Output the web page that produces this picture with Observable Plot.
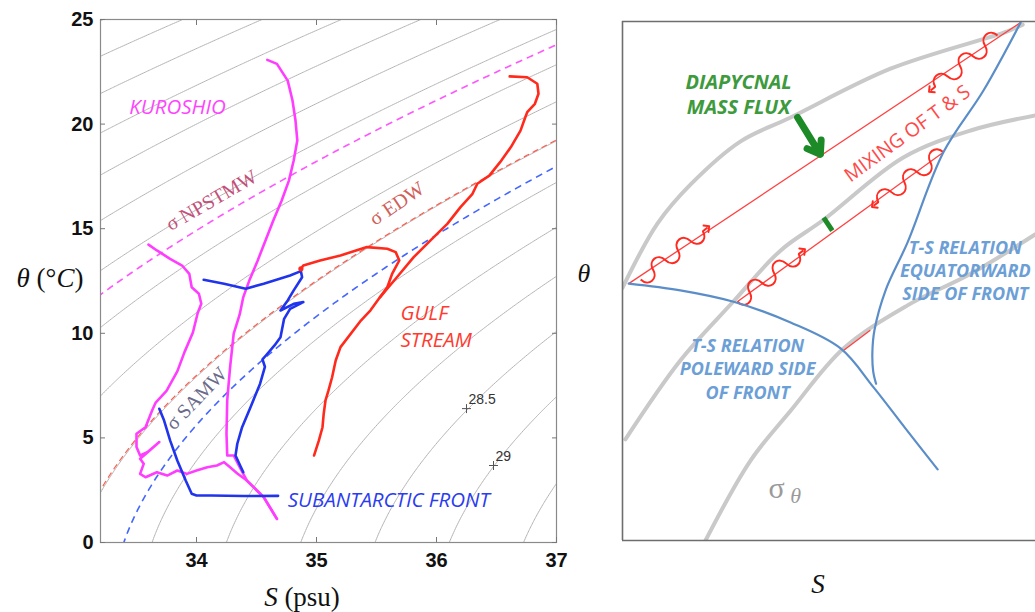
<!DOCTYPE html>
<html>
<head>
<meta charset="utf-8">
<script src="https://cdn.jsdelivr.net/npm/d3@7"></script>
<script src="https://cdn.jsdelivr.net/npm/@observablehq/plot@0.6"></script>
<style>
  body { margin: 0; background: #fff; }
  #fig { position: relative; width: 1035px; height: 612px; overflow: hidden; background: #fff; }
  #fig > svg { position: absolute; top: 0; }
  .lab { position: absolute; font-family: "Liberation Serif", "DejaVu Serif", serif; color: #111; white-space: nowrap; transform: translate(-50%, -50%); line-height: 1; }
</style>
</head>
<body>
<div id="fig"></div>
<script>
// ---------- Left panel: observed θ–S profiles ----------
const sTicks = [34, 35, 36, 37];
const thetaTicks = [0, 5, 10, 15, 20, 25];
const isoLevels = [21.5, 22, 22.5, 23, 23.5, 24, 24.5, 25, 25.5, 26, 26.5, 27, 27.5, 28, 28.5, 29, 29.5];

// mode-water isopycnals (σθ, kg m⁻³ − 1000)
const modeWaters = [
  {name: "σ NPSTMW", sigma: 25.22, color: "#ff55ff", width: 1.6, dash: "7,5", S: 34.125, t: 16.35, angle: -30, textColor: "#c2507a"},
  {name: "σ EDW", sigma: 26.49, color: "#ff5a4a", width: 1.2, dash: "6,4", S: 35.67, t: 16.2, angle: -34, textColor: "#d0605a"},
  {name: "σ SAMW", sigma: 26.81, color: "#4466ff", width: 1.6, dash: "7,5", S: 34.0, t: 6.88, angle: -46, textColor: "#6a6a8a"}
];

// profiles: [S (psu), θ (°C)]
const kuroshioUpper = [[34.59,23.07],[34.67,22.88],[34.76,22.08],[34.80,21.13],[34.825,20.17],[34.84,19.22],[34.81,18.26],[34.77,17.3],[34.71,16.35],[34.64,15.39],[34.575,14.44],[34.51,13.48],[34.44,12.52],[34.39,11.73],[34.36,10.9],[34.31,9.98],[34.28,8.38],[34.256,6.79],[34.25,5.2],[34.256,4.16],[34.31,4.16],[34.36,3.6],[34.42,2.96],[34.56,2.17],[34.67,1.13]];
const kuroshioLower = [[33.60,14.24],[33.67,13.96],[33.78,13.56],[33.88,13.24],[33.94,12.84],[33.96,12.2],[34.02,11.89],[34.04,11.41],[34.01,10.97],[33.97,10.04],[33.90,9.1],[33.84,8.18],[33.75,7.25],[33.66,6.69],[33.63,6.31],[33.575,5.51],[33.5,5.2],[33.5,4.56],[33.53,4.16],[33.59,4.32],[33.69,4.8],[33.6,4.35],[33.53,4.0],[33.56,3.76],[33.53,3.28],[33.575,3.12],[33.67,3.36],[33.756,3.2],[33.84,3.44],[33.92,3.28],[34.0,3.44],[34.09,3.6],[34.17,3.68],[34.23,3.84],[34.28,3.6],[34.34,3.3],[34.42,2.96],[34.56,2.17],[34.67,1.13]];
const safUpper = [[34.06,12.56],[34.23,12.37],[34.41,12.13],[34.56,12.37],[34.78,12.76],[34.87,12.97],[34.88,12.68],[34.81,12.05],[34.76,11.57],[34.70,11.09],[34.81,11.41],[34.89,11.49],[34.78,11.17],[34.73,10.69],[34.70,9.81],[34.65,9.42],[34.58,8.95],[34.55,8.75],[34.57,8.4],[34.53,7.59],[34.45,6.47],[34.38,5.51],[34.34,4.72],[34.325,4.16],[34.39,3.36]];
const safLower = [[33.69,6.39],[33.73,5.83],[33.78,4.88],[33.84,3.92],[33.91,2.96],[33.96,2.33],[34.0,2.25],[34.12,2.25],[34.39,2.22],[34.68,2.23]];
const gulfMain = [[36.61,22.28],[36.756,22.24],[36.84,21.93],[36.85,21.45],[36.82,20.97],[36.756,20.57],[36.74,20.33],[36.70,19.69],[36.62,18.9],[36.53,18.18],[36.44,17.54],[36.34,17.15],[36.30,16.67],[36.2,16.03],[36.09,15.23],[35.95,14.44],[35.81,13.64],[35.67,12.68],[35.53,11.73],[35.45,11.1],[35.37,10.61],[35.2,9.34],[35.16,8.7],[35.13,7.9],[35.10,7.27],[35.075,6.79],[35.06,6.15],[35.05,5.51],[35.02,4.88],[34.98,4.16]];
const gulfLoop = [[34.87,13.08],[34.89,13.24],[35.03,13.48],[35.2,13.72],[35.42,14.12],[35.59,14.04],[35.66,13.88],[35.69,13.48],[35.66,13.16],[35.63,12.84],[35.59,12.2],[35.53,11.73]];

const profiles = [
  {name: "Kuroshio", color: "#ff3dff", pts: kuroshioUpper},
  {name: "Kuroshio", color: "#ff3dff", pts: kuroshioLower},
  {name: "Subantarctic Front", color: "#1f34ec", pts: safUpper},
  {name: "Subantarctic Front", color: "#1f34ec", pts: safLower},
  {name: "Gulf Stream", color: "#ff2a1c", pts: gulfMain},
  {name: "Gulf Stream", color: "#ff2a1c", pts: gulfLoop}
];

const regionLabels = [
  {S: 33.44, t: 20.89, text: "KUROSHIO", color: "#ff44ff"},
  {S: 35.70, t: 10.42, text: "GULF\nSTREAM", color: "#ff3b30"},
  {S: 34.76, t: 2.10, text: "SUBANTARCTIC FRONT", color: "#2b3cf0"}
];
const contourLabels = [
  {S: 36.25, t: 6.40, text: "28.5"},
  {S: 36.475, t: 3.68, text: "29"}
];

// UNESCO EOS-80 potential density anomaly at the surface
function sigmaTheta(S, T) {
  const rw = 999.842594 + T * (6.793952e-2 + T * (-9.095290e-3 + T * (1.001685e-4 + T * (-1.120083e-6 + T * 6.536332e-9))));
  const A = 0.824493 + T * (-4.0899e-3 + T * (7.6438e-5 + T * (-8.2467e-7 + T * 5.3875e-9)));
  const B = -5.72466e-3 + T * (1.0227e-4 - T * 1.6546e-6);
  return rw + A * S + B * S * Math.sqrt(S) + 4.8314e-4 * S * S - 1000;
}

const profileRows = profiles.flatMap((p, i) => p.pts.map(([S, t]) => ({id: i, S, t, color: p.color})));
const sans = "Liberation Sans, Arial, sans-serif";
const calib = "'Open Sans', 'Liberation Sans', sans-serif";
const grid = {x1: 33.0, x2: 37.2, y1: -1, y2: 26};
const noText = () => "";

const left = Plot.plot({
  width: 570,
  height: 612,
  marginLeft: 100,
  marginRight: 14,
  marginTop: 19,
  marginBottom: 70,
  x: {domain: [33.2, 37]},
  y: {domain: [0, 25]},
  style: {fontFamily: sans, background: "transparent", overflow: "visible"},
  marks: [
    Plot.contour({...grid, value: sigmaTheta, thresholds: isoLevels, stroke: "#b3b3b3", strokeWidth: 1, fill: "none", clip: true}),
    ...modeWaters.map(m => Plot.contour({...grid, value: sigmaTheta, thresholds: [m.sigma], stroke: m.color, strokeWidth: m.width, strokeDasharray: m.dash, fill: "none", clip: true})),
    Plot.text(modeWaters, {x: "S", y: "t", text: "name", rotate: "angle", fill: "textColor", fontFamily: "Liberation Serif, serif", fontSize: 20}),
    Plot.line(profileRows, {x: "S", y: "t", z: "id", stroke: "color", strokeWidth: 2.6, curve: "linear", strokeLinejoin: "round", strokeLinecap: "round"}),
    Plot.dot([gulfLoop[0]], {x: d => d[0], y: d => d[1], r: 2.6, fill: "#ff2a1c"}),
    Plot.text(regionLabels, {x: "S", y: "t", text: "text", fill: "color", textAnchor: "start", fontFamily: calib, fontStyle: "italic", fontSize: 20.5, lineHeight: 1.35}),
    Plot.dot(contourLabels, {x: "S", y: "t", symbol: "plus", r: 3, stroke: "#555", strokeWidth: 1}),
    Plot.text(contourLabels, {x: "S", y: "t", text: "text", textAnchor: "start", dx: 2, dy: -9, fill: "#333", fontSize: 14, fontFamily: sans}),
    Plot.frame({stroke: "#8a8a8a", strokeWidth: 1.2}),
    Plot.axisX(sTicks, {anchor: "bottom", tickSize: -5, tickFormat: noText, label: null, stroke: "#777"}),
    Plot.axisX(sTicks, {anchor: "top", tickSize: -5, tickFormat: noText, label: null, stroke: "#777"}),
    Plot.axisY(thetaTicks, {anchor: "left", tickSize: -5, tickFormat: noText, label: null, stroke: "#777"}),
    Plot.axisY(thetaTicks, {anchor: "right", tickSize: -5, tickFormat: noText, label: null, stroke: "#777"}),
    Plot.axisX(sTicks, {anchor: "bottom", tickSize: 0, tickPadding: 10, label: null, tickFormat: d => String(d), fontSize: 20, fontWeight: "bold", fill: "#111"}),
    Plot.axisY(thetaTicks, {anchor: "left", tickSize: 0, tickPadding: 7, label: null, tickFormat: d => String(d), fontSize: 20, fontWeight: "bold", fill: "#111"})
  ]
});
left.style.left = "0px";

// ---------- Right panel: schematic of mixing across a front ----------
// schematic coordinates: salinity and temperature in arbitrary units (0–100)
const isopycnalSketch = [
  [[0,48.7],[8.5,61.1],[16.5,68.6],[28.6,76.9],[40.7,81.5],[64.9,90.9],[93.2,98.1],[96.9,99.4]],
  [[0.7,19.5],[14,34.7],[26.9,46.1],[38.3,55.9],[48.7,61.8],[68,73.8],[84.3,79],[100,81.9]],
  [[20.1,0],[31,15.4],[40.7,25],[53.5,37],[69,45.3],[84.3,51.4],[100,59]]
];
const polewardTS = [[1.5,49.5],[14,48.2],[26.9,46],[40.7,42],[52.8,37],[60.8,29.5],[68.5,21.6],[76.3,13.7]];
const equatorwardTS = [[96.4,99.8],[87.4,86.7],[77.7,74.8],[69,57.4],[63.7,48.2],[61,40.5],[60.5,36.2],[60.7,32.6],[61.4,30.2]];
const mixingLines = [
  {u1: 1.5, v1: 49.5, u2: 96.4, v2: 99.8},
  {u1: 27.8, v1: 46, u2: 77.7, v2: 74.8},
  {u1: 53.5, v1: 36.6, u2: 60, v2: 40.5}
];
const stirring = [
  {u1: 4.4, v1: 50.3, u2: 20.6, v2: 60.3},
  {u1: 90.8, v1: 97.3, u2: 74.6, v2: 86.7},
  {u1: 27.8, v1: 46, u2: 43.8, v2: 55.9},
  {u1: 77.7, v1: 74.8, u2: 60.8, v2: 64.5}
];
const massFlux = [{u1: 42.4, v1: 81.5, u2: 47.9, v2: 74.4}];
const massFluxSmall = [{u1: 48.7, v1: 62.2, u2: 50.8, v2: 59.7}];
const fluxLabel = [{u: 28.1, v: 86.2, text: "DIAPYCNAL\nMASS FLUX"}];
const mixingLabel = [{u: 69, v: 78.4, text: "MIXING OF T & S"}];
const relationLabels = [
  {u: 83, v: 52.2, text: "T-S RELATION\nEQUATORWARD\nSIDE OF FRONT"},
  {u: 30.3, v: 33.3, text: "T-S RELATION\nPOLEWARD SIDE\nOF FRONT"}
];

// a wavy path between the two ends of a link, finishing straight so the arrowhead follows the line
function curveWavy(context) {
  let pts = [];
  return {
    areaStart() {}, areaEnd() {},
    lineStart() { pts = []; },
    point(x, y) { pts.push([+x, +y]); },
    lineEnd() {
      const [x0, y0] = pts[0], [x1, y1] = pts[pts.length - 1];
      const dx = x1 - x0, dy = y1 - y0, L = Math.hypot(dx, dy);
      const ux = dx / L, uy = dy / L, nx = -uy, ny = ux;
      const halves = 5, amp = 8, tail = 6;
      const seg = (L - tail) / halves;
      const at = (s, o) => [x0 + ux * s + nx * o, y0 + uy * s + ny * o];
      context.moveTo(x0, y0);
      for (let i = 0; i < halves; i++) {
        const s = i * seg, h = (i % 2 ? -1 : 1) * amp * 4 / 3;
        const c1 = at(s + seg * 0.1, h), c2 = at(s + seg * 0.9, h), e = at(s + seg, 0);
        context.bezierCurveTo(c1[0], c1[1], c2[0], c2[1], e[0], e[1]);
      }
      context.lineTo(x1, y1);
    }
  };
}

const right = Plot.plot({
  width: 445,
  height: 612,
  marginLeft: 32,
  marginRight: 0,
  marginTop: 21,
  marginBottom: 72,
  x: {domain: [0, 100], axis: null},
  y: {domain: [0, 100], axis: null},
  style: {fontFamily: calib, background: "transparent", overflow: "visible"},
  marks: [
    ...isopycnalSketch.map(c => Plot.line(c, {curve: "catmull-rom", stroke: "#c9c9c9", strokeWidth: 4, clip: true})),
    Plot.link(mixingLines, {x1: "u1", y1: "v1", x2: "u2", y2: "v2", stroke: "#ff4040", strokeWidth: 1.3}),
    Plot.link(stirring, {x1: "u1", y1: "v1", x2: "u2", y2: "v2", curve: curveWavy, stroke: "#ff2a20", strokeWidth: 2, markerEnd: "arrow"}),
    Plot.line(polewardTS, {curve: "catmull-rom", stroke: "#5b8ec8", strokeWidth: 2.2}),
    Plot.line(equatorwardTS, {curve: "catmull-rom", stroke: "#5b8ec8", strokeWidth: 2.2}),
    Plot.arrow(massFlux, {x1: "u1", y1: "v1", x2: "u2", y2: "v2", stroke: "#1c8a26", strokeWidth: 7, headLength: 5, headAngle: 70}),
    Plot.link(massFluxSmall, {x1: "u1", y1: "v1", x2: "u2", y2: "v2", stroke: "#1c8a26", strokeWidth: 5}),
    Plot.text(fluxLabel, {x: "u", y: "v", text: "text", fill: "#3d9a3d", fontStyle: "italic", fontWeight: "bold", fontSize: 20, lineHeight: 1.25}),
    Plot.text(mixingLabel, {x: "u", y: "v", text: "text", fill: "#ff4a4a", rotate: -36, fontSize: 19.5}),
    Plot.text(relationLabels, {x: "u", y: "v", text: "text", fill: "#6c9fd6", fontStyle: "italic", fontWeight: "bold", fontSize: 18, lineHeight: 1.3}),
    Plot.text(["σ"], {x: 37.3, y: 10, fill: "#9a9a9a", fontSize: 30, fontFamily: "Liberation Serif, serif"}),
    Plot.text(["θ"], {x: 41.9, y: 8.6, fill: "#9a9a9a", fontSize: 22, fontStyle: "italic", fontFamily: "Liberation Serif, serif"}),
    Plot.ruleX([0], {stroke: "#6e6e6e", strokeWidth: 1.6}),
    Plot.ruleY([0, 100], {stroke: "#6e6e6e", strokeWidth: 1.6})
  ]
});
right.style.left = "590px";

const fig = document.getElementById("fig");
fig.append(left, right);

// axis titles set in a serif face
const titles = [
  {x: 50, y: 278, html: "<i>θ</i> (°<i>C</i>)", size: 27},
  {x: 302, y: 597, html: "<i>S</i> (psu)", size: 27},
  {x: 584, y: 274, html: "<i>θ</i>", size: 26},
  {x: 818, y: 584, html: "<i>S</i>", size: 27}
];
for (const t of titles) {
  const d = document.createElement("div");
  d.className = "lab";
  d.style.left = t.x + "px";
  d.style.top = t.y + "px";
  d.style.fontSize = t.size + "px";
  d.innerHTML = t.html;
  fig.append(d);
}
</script>
</body>
</html>
